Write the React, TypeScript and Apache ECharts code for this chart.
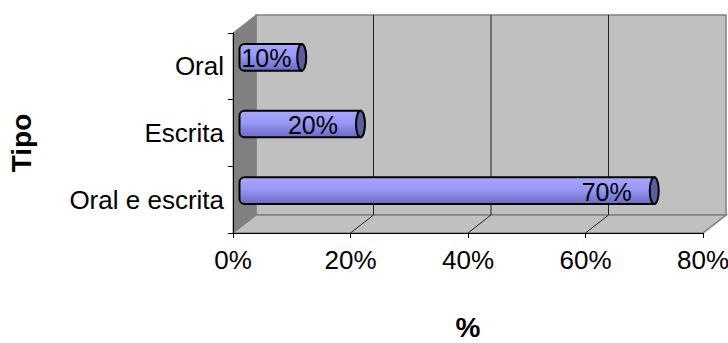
import React, { useEffect, useRef } from "react";
import * as echarts from "echarts";

// Response type categories (bottom to top) and their shares in percent
const categories = ["Oral e escrita", "Escrita", "Oral"];
const shares = [70, 20, 10];
const axisMax = 80;
const axisStep = 20;
const gridValues = [20, 40, 60, 80];

const FONT = "'Liberation Sans', Arial, sans-serif";
// depth of the pseudo-3D box (x shift, y shift) in pixels
const DX = 23;
const DY = -18;

export default function App() {
  const ref = useRef<HTMLDivElement>(null);

  useEffect(() => {
    document.body.style.margin = "0";
    const chart = echarts.init(ref.current!, null, { renderer: "svg" });

    const option: any = {
      animation: false,
      backgroundColor: "#ffffff",
      grid: {
        left: 233,
        right: 25,
        top: 33,
        bottom: 110,
        containLabel: false,
        outerBoundsMode: "none",
      },
      xAxis: {
        type: "value",
        min: 0,
        max: axisMax,
        interval: axisStep,
        z: 5,
        axisLine: { show: true, lineStyle: { color: "#000", width: 1 } },
        axisTick: { show: true, length: 5, lineStyle: { color: "#000" } },
        splitLine: { show: false },
        axisLabel: {
          formatter: "{value}%",
          fontSize: 26,
          color: "#000",
          fontFamily: FONT,
          margin: 14,
        },
        name: "%",
        nameLocation: "middle",
        nameGap: 80,
        nameTextStyle: {
          fontSize: 28,
          fontWeight: "bold",
          color: "#000",
          fontFamily: FONT,
        },
      },
      yAxis: {
        type: "category",
        data: categories,
        z: 5,
        axisLine: { show: true, lineStyle: { color: "#000", width: 1 } },
        axisTick: { show: true, length: 5, lineStyle: { color: "#000" } },
        splitLine: { show: false },
        axisLabel: {
          fontSize: 26,
          color: "#000",
          fontFamily: FONT,
          margin: 9,
        },
        name: "Tipo",
        nameLocation: "middle",
        nameRotate: 90,
        nameGap: 198,
        nameTextStyle: {
          fontSize: 28,
          fontWeight: "bold",
          color: "#000",
          fontFamily: FONT,
          padding: [0, 20, 0, 0],
        },
      },
      series: [
        {
          // walls and floor of the 3D box
          type: "custom",
          z: 1,
          silent: true,
          clip: false,
          data: [[0, 0]],
          encode: { x: 0, y: 1 },
          renderItem: (params: any, api: any) => {
            const cs = params.coordSys;
            const x = cs.x;
            const y = cs.y;
            const w = cs.width;
            const h = cs.height;
            const children: any[] = [];
            // back wall
            children.push({
              type: "rect",
              shape: { x: x + DX, y: y + DY, width: w, height: h },
              style: { fill: "#c0c0c0", stroke: "#808080", lineWidth: 1.5 },
            });
            // left side wall
            children.push({
              type: "polygon",
              shape: {
                points: [
                  [x, y],
                  [x + DX, y + DY],
                  [x + DX, y + h + DY],
                  [x, y + h],
                ],
              },
              style: { fill: "#808080", stroke: "#808080", lineWidth: 1 },
            });
            // floor
            children.push({
              type: "polygon",
              shape: {
                points: [
                  [x, y + h],
                  [x + DX, y + h + DY],
                  [x + w + DX, y + h + DY],
                  [x + w, y + h],
                ],
              },
              style: { fill: "#c0c0c0", stroke: "#808080", lineWidth: 1.5 },
            });
            // grid lines on the back wall and across the floor
            gridValues.forEach((v) => {
              const px = api.coord([v, 0])[0];
              if (v < axisMax) {
                children.push({
                  type: "line",
                  shape: { x1: px + DX, y1: y + DY, x2: px + DX, y2: y + h + DY },
                  style: { stroke: "#222", lineWidth: 1 },
                });
              }
              children.push({
                type: "line",
                shape: { x1: px, y1: y + h, x2: px + DX, y2: y + h + DY },
                style: { stroke: v < axisMax ? "#222" : "#808080", lineWidth: 1 },
              });
            });
            return { type: "group", children };
          },
        },
        {
          // cylinder-like bars with value labels
          type: "custom",
          z: 3,
          clip: false,
          data: shares.map((v, i) => [v, i]),
          encode: { x: 0, y: 1 },
          renderItem: (params: any, api: any) => {
            const v = api.value(0);
            const ci = api.value(1);
            const start = api.coord([0, ci]);
            const end = api.coord([v, ci]);
            const band = api.size([0, 1])[1];
            const barH = band * 0.4;
            const cy = start[1] + DY / 2;
            const x0 = start[0] + DX / 2 - 5;
            const x1 = end[0] + DX / 2 + 3;
            const capW = 9;
            // label sits near the bar end but never before the bar start
            const labelRight = Math.max(x1 - 27, x0 + 52);
            return {
              type: "group",
              children: [
                {
                  type: "rect",
                  shape: {
                    x: x0,
                    y: cy - barH / 2,
                    width: x1 - capW / 2 - x0,
                    height: barH,
                    r: [5, 0, 0, 5],
                  },
                  style: {
                    fill: new echarts.graphic.LinearGradient(0, 0, 0, 1, [
                      { offset: 0, color: "#a8a8ff" },
                      { offset: 0.45, color: "#9797f6" },
                      { offset: 1, color: "#6a6ac2" },
                    ]),
                    stroke: "#000",
                    lineWidth: 2,
                  },
                },
                {
                  type: "ellipse",
                  shape: {
                    cx: x1 - capW / 2,
                    cy,
                    rx: capW / 2,
                    ry: barH / 2,
                  },
                  style: { fill: "#5d5d9c", stroke: "#000", lineWidth: 2 },
                },
                {
                  type: "text",
                  style: {
                    text: v + "%",
                    x: labelRight,
                    y: cy + 1,
                    align: "right",
                    verticalAlign: "middle",
                    fontSize: 25,
                    fontFamily: FONT,
                    fill: "#000",
                  },
                },
              ],
            };
          },
        },
      ],
    };

    chart.setOption(option);
    return () => chart.dispose();
  }, []);

  return <div ref={ref} style={{ width: 728, height: 343 }} />;
}
